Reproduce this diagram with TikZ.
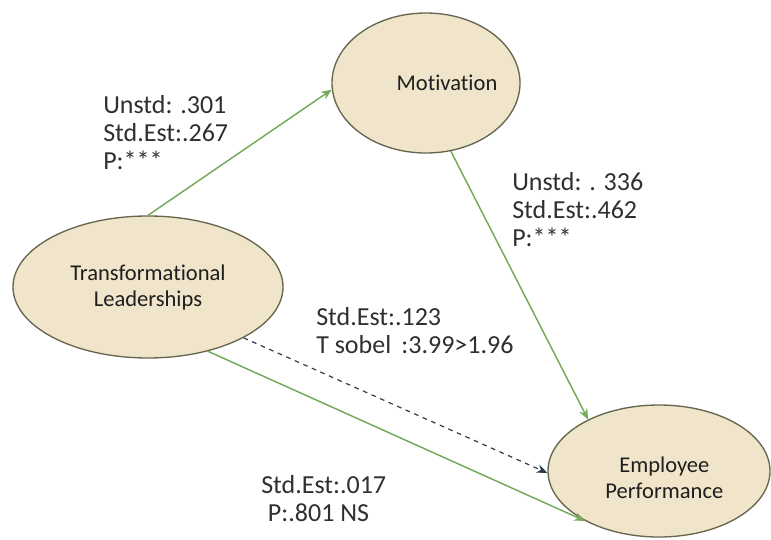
\documentclass[tikz,border=0pt]{standalone}
\usepackage{fontspec}
\setmainfont{Carlito}[Ligatures=NoCommon]
\usetikzlibrary{arrows.meta,shapes.geometric}
\definecolor{parch}{HTML}{F0E4CA}
\definecolor{rim}{HTML}{66664E}
\definecolor{pathgreen}{HTML}{76AA5A}
\definecolor{dashblue}{HTML}{2F3B4C}
\definecolor{lbl}{HTML}{303030}
\definecolor{ntxt}{HTML}{1E1E1E}
\newcommand{\nl}{\kern0pt}
\tikzset{
  construct/.style={ellipse, draw=rim, line width=1pt, fill=parch, inner sep=0pt},
  ntext/.style={font=\fontsize{16.9}{19.5}\selectfont, text=ntxt, align=center},
  est/.style={font=\fontsize{19.5}{21}\selectfont, text=lbl, align=left, anchor=west, inner sep=0pt},
  greenpath/.style={draw=pathgreen, line width=1.1pt, -{Stealth[length=8pt,width=6.5pt]}},
  indirect/.style={draw=dashblue, line width=0.9pt, dash pattern=on 3.5pt off 3.5pt, -{Stealth[length=8pt,width=6.5pt]}}
}
\begin{document}
\begin{tikzpicture}[x=0.75pt,y=-0.75pt]
\useasboundingbox[fill=white] (0,0) rectangle (771,539);
\node[construct, minimum width=202.5pt, minimum height=106.5pt,
  label={[ntext]center:Transformat\nl ional\\Leaderships}] (tl) at (148,287) {};
\node[construct, minimum width=141pt, minimum height=105pt,
  label={[ntext, xshift=15.75pt]center:Mot\nl ivat\nl ion}] (mot) at (426,83) {};
\node[construct, minimum width=166.5pt, minimum height=99pt,
  label={[ntext, xshift=4pt, yshift=-5pt]center:Employee\\Performance}] (ep) at (659,471) {};

\draw[greenpath] (tl.90) -- (mot.184);
\draw[greenpath] (mot.290) -- (ep.144);
\draw[indirect] (tl.332) -- (ep.181);
\draw[greenpath] (tl.313) -- (ep.214);

\node[est] (l1) at (103,132.5) {Unstd: .301\\Std.Est:.267\\P:***};
\node[est] (l2) at (512,210) {Unstd: . 336\\Std.Est:.462\\P:***};
\node[est] (l3) at (316,330.5) {Std.Est:.123\\T sobel \,:3.99>1.96};
\node[est] (l4) at (261,499) {Std.Est:.017\\\hspace*{5pt}P:.801 NS};
\end{tikzpicture}
\end{document}
